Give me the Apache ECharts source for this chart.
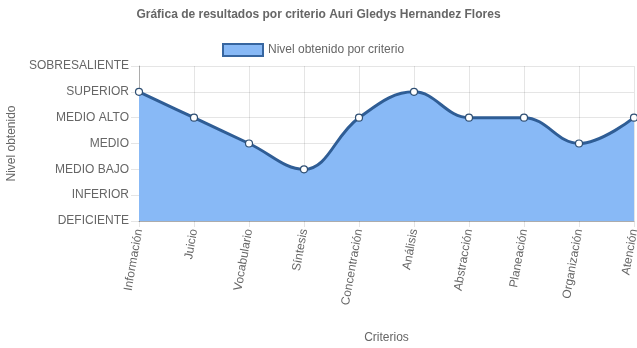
<!DOCTYPE html>
<html>
<head>
<meta charset="utf-8">
<style>
  html, body { margin: 0; padding: 0; background: #fff; }
  #chart { width: 637px; height: 348px; }
</style>
<script src="https://cdn.jsdelivr.net/npm/echarts@6/dist/echarts.min.js"></script>
</head>
<body>
<div id="chart"></div>
<script>
// Criteria evaluated (x axis)
const categories = ['Información', 'Juicio', 'Vocabulario', 'Síntesis', 'Concentración',
  'Análisis', 'Abstracción', 'Planeación', 'Organización', 'Atención'];

// Level scale, lowest to highest (y axis tick labels)
const levels = ['DEFICIENTE', 'INFERIOR', 'MEDIO BAJO', 'MEDIO', 'MEDIO ALTO', 'SUPERIOR', 'SOBRESALIENTE'];

// Level obtained for each criterion
const obtained = ['SUPERIOR', 'MEDIO ALTO', 'MEDIO', 'MEDIO BAJO', 'MEDIO ALTO',
  'SUPERIOR', 'MEDIO ALTO', 'MEDIO ALTO', 'MEDIO', 'MEDIO ALTO'];

const seriesName = 'Nivel obtenido por criterio';
const font = 'Liberation Sans, Arial, Helvetica, sans-serif';
const textColor = '#666';
const gridColor = 'rgba(0,0,0,0.1)';

const chart = echarts.init(document.getElementById('chart'));
chart.setOption({
  animation: false,
  textStyle: { fontFamily: font },
  title: {
    text: 'Gráfica de resultados por criterio Auri Gledys Hernandez Flores',
    left: 'center',
    top: 4,
    textStyle: { fontFamily: font, fontSize: 12, fontWeight: 'bold', color: textColor }
  },
  legend: {
    top: 38,
    left: 217,
    itemWidth: 40,
    itemHeight: 12,
    textStyle: { fontFamily: font, fontSize: 12, color: textColor },
    data: [{
      name: seriesName,
      icon: 'rect',
      itemStyle: { color: '#88b9f6', borderColor: '#3766a0', borderWidth: 2 }
    }]
  },
  grid: { left: 139, right: 3, top: 66, bottom: 127, containLabel: false, outerBoundsMode: 'none' },
  xAxis: {
    type: 'category',
    data: categories,
    boundaryGap: false,
    name: 'Criterios',
    nameLocation: 'middle',
    nameGap: 111,
    nameTextStyle: { fontFamily: font, fontSize: 12, color: textColor },
    axisLine: { show: true, lineStyle: { color: 'rgba(0,0,0,0.25)' } },
    axisTick: { show: true, length: 6, alignWithLabel: true, lineStyle: { color: gridColor } },
    axisLabel: { rotate: 80, color: textColor, fontSize: 12, fontFamily: font, margin: 8, interval: 0 },
    splitLine: { show: true, lineStyle: { color: gridColor } }
  },
  yAxis: {
    type: 'value',
    min: 0,
    max: levels.length - 1,
    interval: 1,
    name: 'Nivel obtenido',
    nameLocation: 'middle',
    nameGap: 121,
    nameRotate: 90,
    nameTextStyle: { fontFamily: font, fontSize: 12, color: textColor },
    axisLine: { show: true, lineStyle: { color: 'rgba(0,0,0,0.25)' } },
    axisTick: { show: true, length: 8, lineStyle: { color: gridColor } },
    axisLabel: {
      color: textColor, fontSize: 12, fontFamily: font, margin: 10,
      formatter: v => levels[v] || ''
    },
    splitLine: { show: true, lineStyle: { color: gridColor } }
  },
  series: [{
    name: seriesName,
    type: 'line',
    data: obtained.map(l => levels.indexOf(l)),
    smooth: 0.4,
    smoothConstraint: false,
    symbol: 'circle',
    symbolSize: 7,
    showSymbol: true,
    lineStyle: { color: '#2f5d95', width: 3 },
    itemStyle: { color: '#fff', borderColor: '#2f4f73', borderWidth: 1.2 },
    areaStyle: { color: '#88b9f6', opacity: 1 },
    z: 3
  }]
});
</script>
</body>
</html>
